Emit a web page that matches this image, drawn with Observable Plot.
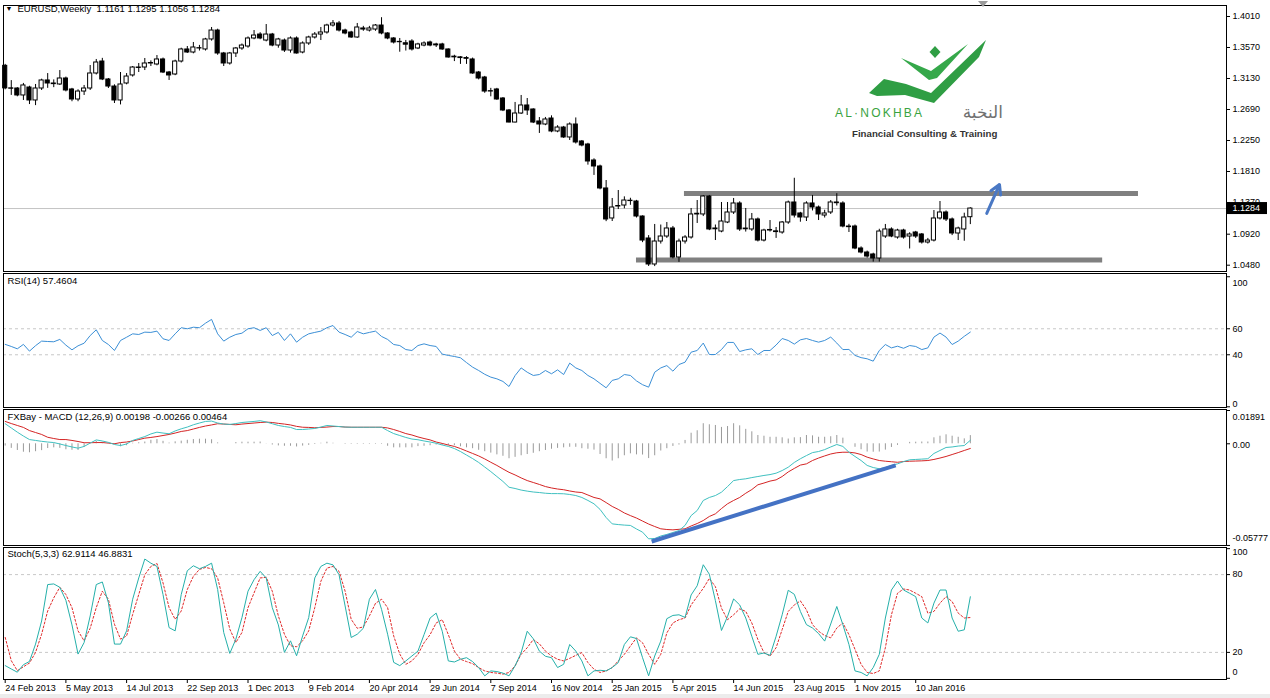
<!DOCTYPE html>
<html><head><meta charset="utf-8">
<script src="https://cdn.jsdelivr.net/npm/d3@7"></script>
<script src="https://cdn.jsdelivr.net/npm/@observablehq/plot@0.6"></script>
<style>
html,body{margin:0;padding:0;background:#fff;}
#root{position:relative;width:1270px;height:698px;overflow:hidden;background:#fff;}
.panel{position:absolute;left:0;}
.panel svg{overflow:visible;}
</style></head><body><div id="root"></div>
<script>
// ---------- DATA (weekly EURUSD, week 0 = 24 Feb 2013) ----------
const opens = [1.3310,1.2990,1.2988,1.2889,1.3002,1.2818,1.2988,1.3102,1.3059,1.3045,
1.3130,1.2974,1.2832,1.2945,1.2988,1.3201,1.3371,1.3116,1.3016,1.2818,
1.3059,1.3173,1.3286,1.3286,1.3343,1.3329,1.3400,1.3215,1.3187,1.3371,
1.3542,1.3499,1.3560,1.3542,1.3684,1.3811,1.3485,1.3343,1.3485,1.3556,
1.3584,1.3698,1.3754,1.3669,1.3754,1.3598,1.3669,1.3527,1.3698,1.3499,
1.3627,1.3712,1.3754,1.3783,1.3882,1.3911,1.3811,1.3783,1.3712,1.3840,
1.3811,1.3825,1.3882,1.3769,1.3698,1.3645,1.3630,1.3655,1.3556,1.3598,
1.3641,1.3600,1.3613,1.3542,1.3440,1.3430,1.3420,1.3400,1.3215,1.3144,
1.2950,1.2974,1.2846,1.2676,1.2505,1.2633,1.2747,1.2690,1.2520,1.2477,
1.2562,1.2378,1.2434,1.2293,1.2477,1.2236,1.2193,1.1966,1.1881,1.1569,
1.1143,1.1313,1.1327,1.1390,1.1384,1.1171,1.0859,1.0490,1.0816,1.0887,
1.1001,1.0589,1.0816,1.0873,1.1200,1.1200,1.1455,1.0990,1.0958,1.1086,
1.1228,1.1356,1.0990,1.0987,1.1129,1.0830,1.0972,1.0960,1.0944,1.1086,
1.1370,1.1214,1.1157,1.1356,1.1299,1.1185,1.1228,1.1370,1.1356,1.1029,
1.1029,1.0717,1.0660,1.0632,1.0575,1.0887,1.0987,1.0873,1.0972,1.0887,
1.0944,1.0916,1.0802,1.0830,1.1143,1.1228,1.1129,1.0930,1.0987,1.1161];
const highs = [1.3330,1.3100,1.3000,1.3060,1.3020,1.3045,1.3120,1.3200,1.3110,1.3243,
1.3150,1.2990,1.2970,1.3031,1.3314,1.3400,1.3416,1.3130,1.3040,1.3215,
1.3200,1.3300,1.3343,1.3414,1.3380,1.3456,1.3420,1.3230,1.3390,1.3560,
1.3584,1.3641,1.3600,1.3700,1.3854,1.3830,1.3500,1.3500,1.3570,1.3620,
1.3720,1.3811,1.3780,1.3896,1.3770,1.3700,1.3690,1.3720,1.3720,1.3650,
1.3730,1.3783,1.3854,1.3900,1.3953,1.3940,1.3830,1.3800,1.3911,1.3870,
1.3870,1.3896,1.3993,1.3780,1.3710,1.3698,1.3670,1.3680,1.3630,1.3650,
1.3660,1.3630,1.3630,1.3550,1.3460,1.3440,1.3440,1.3420,1.3230,1.3160,
1.2990,1.2990,1.2860,1.2690,1.2790,1.2889,1.2846,1.2700,1.2576,1.2577,
1.2600,1.2460,1.2450,1.2500,1.2570,1.2250,1.2210,1.1990,1.1900,1.1682,
1.1427,1.1540,1.1450,1.1430,1.1400,1.1180,1.0900,1.1058,1.1050,1.1086,
1.1030,1.0850,1.0900,1.1285,1.1398,1.1467,1.1470,1.1050,1.1370,1.1370,
1.1427,1.1380,1.1285,1.1214,1.1150,1.0990,1.1114,1.1015,1.1100,1.1390,
1.1714,1.1230,1.1380,1.1470,1.1320,1.1260,1.1398,1.1495,1.1380,1.1060,
1.1050,1.0740,1.0680,1.0650,1.0990,1.1058,1.1010,1.0990,1.0990,1.0940,
1.0960,1.0930,1.0860,1.1256,1.1384,1.1250,1.1150,1.1020,1.1218,1.1295];
const lows = [1.2970,1.2890,1.2870,1.2818,1.2760,1.2745,1.2960,1.2990,1.3000,1.3031,
1.2940,1.2800,1.2800,1.2889,1.2960,1.3180,1.3100,1.2988,1.2775,1.2755,
1.3040,1.3150,1.3215,1.3243,1.3300,1.3310,1.3200,1.3102,1.3170,1.3350,
1.3485,1.3480,1.3520,1.3520,1.3660,1.3460,1.3300,1.3320,1.3428,1.3530,
1.3560,1.3680,1.3680,1.3650,1.3580,1.3560,1.3500,1.3490,1.3477,1.3480,
1.3600,1.3690,1.3669,1.3760,1.3860,1.3790,1.3750,1.3700,1.3700,1.3800,
1.3790,1.3800,1.3750,1.3680,1.3620,1.3503,1.3520,1.3520,1.3540,1.3580,
1.3580,1.3570,1.3530,1.3420,1.3370,1.3330,1.3330,1.3190,1.3110,1.2920,
1.2870,1.2820,1.2660,1.2500,1.2500,1.2620,1.2605,1.2490,1.2350,1.2460,
1.2360,1.2360,1.2280,1.2250,1.2200,1.2160,1.1900,1.1754,1.1550,1.1098,
1.1100,1.1270,1.1280,1.1330,1.1150,1.0800,1.0462,1.0460,1.0780,1.0860,
1.0570,1.0520,1.0780,1.0850,1.1072,1.1170,1.0970,1.0830,1.0940,1.1070,
1.1200,1.0960,1.0950,1.0960,1.0810,1.0810,1.0950,1.0860,1.0920,1.1060,
1.1150,1.1090,1.1100,1.1250,1.1114,1.1150,1.1200,1.1320,1.1010,1.0944,
1.0700,1.0640,1.0580,1.0524,1.0524,1.0860,1.0870,1.0850,1.0850,1.0710,
1.0860,1.0780,1.0780,1.0810,1.1120,1.1100,1.0900,1.0830,1.0820,1.1056];
const closes = [1.2990,1.2985,1.2889,1.3031,1.2818,1.2988,1.3102,1.3059,1.3050,1.3130,
1.2960,1.2832,1.2945,1.2988,1.3201,1.3357,1.3116,1.3016,1.2818,1.3045,
1.3158,1.3286,1.3280,1.3343,1.3350,1.3400,1.3215,1.3173,1.3371,1.3542,
1.3499,1.3570,1.3556,1.3684,1.3811,1.3485,1.3343,1.3485,1.3556,1.3598,
1.3698,1.3740,1.3698,1.3754,1.3598,1.3684,1.3527,1.3698,1.3485,1.3627,
1.3712,1.3754,1.3783,1.3882,1.3911,1.3811,1.3769,1.3712,1.3854,1.3825,
1.3840,1.3882,1.3769,1.3698,1.3641,1.3650,1.3610,1.3542,1.3613,1.3627,
1.3598,1.3613,1.3542,1.3428,1.3430,1.3420,1.3410,1.3201,1.3130,1.2945,
1.2945,1.2832,1.2676,1.2505,1.2633,1.2747,1.2676,1.2505,1.2477,1.2548,
1.2378,1.2434,1.2293,1.2477,1.2222,1.2179,1.1952,1.1881,1.1569,1.1129,
1.1299,1.1320,1.1398,1.1395,1.1171,1.0830,1.0490,1.0816,1.0887,1.1001,
1.0589,1.0816,1.0873,1.1200,1.1210,1.1455,1.0987,1.1001,1.1100,1.1228,
1.1356,1.0987,1.1000,1.1129,1.0830,1.0972,1.0980,1.0950,1.1086,1.1370,
1.1185,1.1157,1.1356,1.1299,1.1200,1.1214,1.1370,1.1360,1.1029,1.1020,
1.0717,1.0660,1.0603,1.0575,1.0958,1.0987,1.0887,1.0972,1.0873,1.0916,
1.0887,1.0802,1.0830,1.1143,1.1228,1.1129,1.0930,1.1001,1.1157,1.1284];

const rsi14 = [48,46.4,44.6,48,42.8,47,50.5,50.2,50,51.8,
47.4,43.8,46.9,48.9,54.8,59.2,51,47.9,43.3,51,
53.5,56.1,55.6,57.4,57.2,58.2,52.3,51,56.1,60.8,
60,61.2,60.8,64.3,67.2,56.1,50.5,53.5,55.6,56.6,
60,60.8,58.7,60.8,54.8,57.2,51,56.1,49.7,53.5,
56.1,57.2,58.2,60.8,62.5,57.4,55.6,53.5,57.9,56.1,
57.2,58.2,54.1,51.8,47.9,47.1,44,43.3,47.1,48.4,
47.1,46.4,40.5,39.5,38.7,37.7,34,30.5,27.9,25,
22.8,21.5,19.5,15.6,24,29.9,26.6,24.1,24.8,27.9,
25.4,28.4,24.8,33.6,29.9,27.9,24.1,21.5,18,14.6,
20.3,21.5,24.8,24.1,19.9,17,15.1,26.6,29.9,31.7,
27.4,32.5,34.3,42,43.3,49,40.2,40.2,44,49.5,
49.5,42.5,43.8,44.6,40.2,43.3,43.3,47.5,52.5,51,
48.2,51.5,52.5,51,49.7,51,53.6,49,44,44.1,
39.5,37.8,36.9,35.1,43.3,47.9,45.3,46.6,45,47.1,
46.4,44,45.3,53.6,56.7,53.6,47.9,50.5,54.2,57.46];

const macdMain = [0.0114,0.0090,0.0066,0.0044,0.0024,0.0019,0.0014,0.0010,0.0007,-0.0001,
-0.0010,-0.0018,-0.0025,-0.0015,0.0004,0.0022,0.0016,0.0008,-0.0004,-0.0010,
-0.0001,0.0019,0.0030,0.0041,0.0056,0.0066,0.0061,0.0057,0.0073,0.0085,
0.0095,0.0108,0.0118,0.0127,0.0129,0.0118,0.0112,0.0110,0.0115,0.0121,
0.0124,0.0127,0.0131,0.0124,0.0114,0.0104,0.0098,0.0093,0.0081,0.0081,
0.0084,0.0087,0.0095,0.0104,0.0101,0.0098,0.0095,0.0094,0.0094,0.0094,
0.0094,0.0094,0.0094,0.0075,0.0058,0.0047,0.0036,0.0027,0.0023,0.0016,
0.0010,0.0003,-0.0007,-0.0015,-0.0027,-0.0044,-0.0064,-0.0084,-0.0106,-0.0132,
-0.0158,-0.0186,-0.0214,-0.0247,-0.0254,-0.0263,-0.0269,-0.0274,-0.0277,-0.0281,
-0.0283,-0.0283,-0.0284,-0.0288,-0.0294,-0.0305,-0.0322,-0.0341,-0.0373,-0.0419,
-0.0455,-0.0459,-0.0462,-0.0464,-0.0484,-0.0502,-0.0540,-0.0538,-0.0524,-0.0515,
-0.0504,-0.0493,-0.0464,-0.0408,-0.0379,-0.0322,-0.0305,-0.0294,-0.0275,-0.0243,
-0.0209,-0.0203,-0.0199,-0.0192,-0.0186,-0.0180,-0.0175,-0.0167,-0.0152,-0.0133,
-0.0106,-0.0085,-0.0067,-0.0050,-0.0044,-0.0033,-0.0018,-0.0004,-0.0015,-0.0048,
-0.0072,-0.0095,-0.0123,-0.0135,-0.0142,-0.0135,-0.0123,-0.0114,-0.0101,-0.0091,
-0.0089,-0.0087,-0.0085,-0.0055,-0.0038,-0.0021,-0.0018,-0.0013,-0.0010,0.00198];
const macdSignal = [0.0127,0.0115,0.0104,0.0093,0.0075,0.0064,0.0053,0.0037,0.0030,0.0024,
0.0024,0.0019,0.0013,0.0006,0.0006,0.0007,0.0007,0.0004,0.0000,0.0007,
0.0010,0.0016,0.0024,0.0032,0.0036,0.0041,0.0047,0.0053,0.0061,0.0070,
0.0075,0.0084,0.0093,0.0101,0.0107,0.0114,0.0112,0.0110,0.0108,0.0112,
0.0115,0.0118,0.0121,0.0123,0.0121,0.0116,0.0112,0.0107,0.0099,0.0094,
0.0093,0.0091,0.0093,0.0095,0.0098,0.0098,0.0095,0.0094,0.0094,0.0094,
0.0094,0.0094,0.0094,0.0090,0.0081,0.0070,0.0058,0.0050,0.0039,0.0030,
0.0022,0.0010,0.0002,-0.0007,-0.0015,-0.0027,-0.0041,-0.0055,-0.0069,-0.0086,
-0.0105,-0.0123,-0.0143,-0.0162,-0.0177,-0.0194,-0.0209,-0.0220,-0.0231,-0.0243,
-0.0251,-0.0257,-0.0261,-0.0268,-0.0274,-0.0277,-0.0291,-0.0305,-0.0313,-0.0334,
-0.0356,-0.0373,-0.0393,-0.0408,-0.0422,-0.0439,-0.0456,-0.0470,-0.0483,-0.0487,
-0.0489,-0.0486,-0.0483,-0.0467,-0.0453,-0.0436,-0.0413,-0.0398,-0.0368,-0.0341,
-0.0322,-0.0305,-0.0281,-0.0260,-0.0233,-0.0223,-0.0212,-0.0205,-0.0186,-0.0160,
-0.0140,-0.0121,-0.0114,-0.0095,-0.0081,-0.0069,-0.0058,-0.0051,-0.0048,-0.0048,
-0.0052,-0.0061,-0.0076,-0.0086,-0.0095,-0.0099,-0.0102,-0.0105,-0.0101,-0.0099,
-0.0098,-0.0097,-0.0095,-0.0089,-0.0081,-0.0072,-0.0061,-0.0050,-0.0038,-0.00266];
const macdHist = [-0.0013,-0.0026,-0.0038,-0.0048,-0.0051,-0.0045,-0.0039,-0.0027,-0.0023,-0.0026,
-0.0034,-0.0037,-0.0038,-0.0021,-0.0001,0.0014,0.0009,0.0004,-0.0004,-0.0017,
-0.0011,0.0003,0.0006,0.0010,0.0020,0.0024,0.0014,0.0004,0.0011,0.0015,
0.0020,0.0024,0.0026,0.0026,0.0023,0.0005,0.0000,0.0000,0.0007,0.0009,
0.0009,0.0009,0.0010,0.0001,-0.0007,-0.0012,-0.0014,-0.0014,-0.0018,-0.0013,
-0.0009,-0.0004,0.0003,0.0009,0.0003,0.0000,-0.0003,-0.0003,-0.0003,-0.0003,
-0.0003,-0.0003,-0.0003,-0.0014,-0.0023,-0.0023,-0.0023,-0.0023,-0.0016,-0.0014,
-0.0011,-0.0007,-0.0009,-0.0009,-0.0011,-0.0017,-0.0023,-0.0028,-0.0037,-0.0045,
-0.0053,-0.0063,-0.0071,-0.0085,-0.0077,-0.0068,-0.0061,-0.0054,-0.0045,-0.0038,
-0.0031,-0.0026,-0.0023,-0.0020,-0.0020,-0.0028,-0.0031,-0.0036,-0.0061,-0.0085,
-0.0098,-0.0085,-0.0068,-0.0057,-0.0063,-0.0064,-0.0084,-0.0068,-0.0041,-0.0028,
-0.0015,-0.0007,0.0019,0.0060,0.0074,0.0114,0.0108,0.0104,0.0093,0.0098,
0.0114,0.0102,0.0082,0.0068,0.0047,0.0043,0.0037,0.0037,0.0034,0.0027,
0.0034,0.0035,0.0047,0.0045,0.0037,0.0037,0.0040,0.0047,0.0032,0.0000,
-0.0020,-0.0034,-0.0047,-0.0048,-0.0047,-0.0036,-0.0021,-0.0009,0.0000,0.0008,
0.0009,0.0010,0.0010,0.0034,0.0043,0.0051,0.0043,0.0037,0.0028,0.00464];

const stochK = [9.8,7.2,4.7,10.5,13,26.4,44.2,72.3,72.8,70.2,
60.1,41.2,18.7,27.6,48.1,72.3,74.3,58.3,26.4,26.4,
36.6,61,77.4,92,88.8,86.3,64.6,39.1,36.6,64.6,
83,86.8,84.5,86.3,88.8,68.5,35.3,19.2,30.2,46.8,
67.2,76.1,82.5,77.4,54.5,41.2,20,28.9,17.4,32.7,
46.8,77.4,86.3,88.8,87.5,79.9,55.8,31.5,34,38.6,
61,68.5,53.2,34,12.3,9.8,13.4,17.2,21,33.7,
46.5,50.3,36.3,13.4,12.6,14.7,15.9,12.9,8.3,1.9,
5.7,5.2,4,1.9,9.6,19.8,36.3,30.5,21,17,
15.9,8.3,10.8,26.1,21,13.4,1.9,5.7,6.2,5.7,
8.3,12.1,26.1,32,30.7,15.9,1.9,17.2,28.7,46,
48.5,49,47,64.3,71.4,87.6,80.3,59.9,36.9,47.7,
61.2,56.6,46.5,32.4,18.5,19.5,17.7,32.4,49,67.9,
64.8,51.6,41.4,38.8,34.5,28.7,41.9,55.4,41.4,26.1,
5.7,4.5,1.9,8.3,18.5,46.5,68.1,75,68.1,65.6,
63,46.5,42.7,58,68.1,68.1,46.5,36.3,37.4,62.91];
const stochD = [31.5,13.6,5.9,8.9,11.8,20,34,51.9,62.1,70.2,
64.6,54.5,36.6,28.9,38.6,54.5,67.2,61,41.7,30.2,
32.7,49.3,64.6,79.9,86.3,88.6,73.6,54.5,45.5,51.9,
68.5,78.7,84,85.5,84.5,77.4,58.3,37.9,27.6,35.3,
54.5,65.9,77.4,77.9,67.2,48.1,34,25.1,24.3,28.9,
36.6,54.5,74.8,85,86.3,82.5,67.2,45.5,38.6,39.6,
48.1,57.8,61,54.5,32.7,18.7,10.8,13.4,18.5,27.4,
33.7,42.7,45.2,33.7,21,14.7,12.9,11.3,8.3,5.7,
4.5,4,3.2,4.5,9.6,18.5,23.6,29.9,26.6,21,
17.2,14.7,13.4,15.4,17.7,19.8,12.1,7,4.5,5.7,
8.3,13.4,18.5,24.9,31.2,27.4,18.5,10.8,18.5,35,
42.7,45.2,46.5,56.6,63,69.4,77,70.7,54.1,45.2,
49,53.6,51.6,42.7,29.9,19.8,17.2,23.6,37.6,51.6,
56.6,59.7,52.8,41.4,36.3,33,31.2,38.8,42.7,33.7,
22.3,10.8,4.5,3.7,5.7,23.6,49,65.6,68.9,68.1,
65.6,63,50.3,51.6,58,63,59.2,50.3,46.5,46.88];

const dateLabels = ["24 Feb 2013","5 May 2013","14 Jul 2013","22 Sep 2013","1 Dec 2013","9 Feb 2014","20 Apr 2014","29 Jun 2014","7 Sep 2014","16 Nov 2014","25 Jan 2015","5 Apr 2015","14 Jun 2015","23 Aug 2015","1 Nov 2015","10 Jan 2016"];
const dateLabelWeeks = [0,10,20,30,40,50,60,70,80,90,100,110,120,130,140,150];
const priceTicks = [1.4010,1.3570,1.3130,1.2690,1.2250,1.1810,1.1370,1.0920,1.0480];
const rsiLevels = [60,40];
const stochLevels = [80,20];

// drawn annotations (week index, value)
const zoneLevels = [1.1498,1.0554];
const zoneFromWeek = [111.9,104.0];
const zoneToWeek = [186.7,180.8];
const arrowWeeks = [161.7,163.8];
const arrowPrices = [1.1214,1.1625];
const macdTrendWeeks = [106.5,146.7];
const macdTrendValues = [-0.0555,-0.0123];

// ---------- LAYOUT ----------
const W = 1270, ML = 3, MR = 44;
const xDomain = [-0.28, 201.2];
const font = '"Liberation Sans", Arial, sans-serif';
const root = document.getElementById("root");
const weeks = closes.map((_, i) => i);
const candles = weeks.map(i => ({i, o: opens[i], h: highs[i], l: lows[i], c: closes[i]}));
const lastClose = closes[closes.length - 1];
const baseStyle = {fontFamily: font, fontSize: "9px", background: "transparent", color: "#000", overflow: "visible"};

function place(svg, top) {
  const d = document.createElement("div");
  d.className = "panel"; d.style.top = top + "px";
  d.append(svg); root.append(d);
}
function axisTicks(vals) {
  return Plot.axisY(vals, {anchor: "right", tickSize: 3, tickFormat: () => "", label: null, stroke: "#000"});
}
function axisLabels(vals, fmt, dy = 0) {
  return Plot.text(vals, {y: d => d, text: fmt, frameAnchor: "right", textAnchor: "start", dx: 6, dy, fontSize: 9, fill: "#000"});
}

// Main price panel
const zones = zoneLevels.map((v, k) => ({v, a: zoneFromWeek[k], b: zoneToWeek[k]}));
const mainTicks = priceTicks.filter(v => Math.abs(v - lastClose) > 0.005);
const hiddenTicks = priceTicks.filter(v => Math.abs(v - lastClose) <= 0.005);
place(Plot.plot({
  width: W, height: 272, marginLeft: ML, marginRight: MR, marginTop: 5, marginBottom: 1,
  x: {domain: xDomain, axis: null},
  y: {domain: [1.03904, 1.41661]},
  style: baseStyle,
  marks: [
    Plot.ruleY([lastClose], {stroke: "#c4c4c4", strokeWidth: 1}),
    Plot.ruleY(zones, {y: "v", x1: "a", x2: "b", stroke: "#808080", strokeWidth: 5}),
    Plot.ruleX(candles, {x: "i", y1: "l", y2: "h", stroke: "#000", strokeWidth: 1}),
    Plot.rect(candles, {x1: d => d.i - 0.34, x2: d => d.i + 0.34, y1: "o", y2: "c",
      fill: d => d.c >= d.o ? "#ffffff" : "#000000", stroke: "#000", strokeWidth: 1}),
    Plot.arrow([0], {x1: () => arrowWeeks[0], y1: () => arrowPrices[0], x2: () => arrowWeeks[1], y2: () => arrowPrices[1],
      stroke: "#4a78c4", strokeWidth: 3, headLength: 9}),
    Plot.frame({stroke: "#000"}),
    axisTicks(priceTicks),
    axisLabels(mainTicks, d => d.toFixed(4)),
    // label partly covered by the current-price box (as in MT4), shifted up and clipped by the box
    axisLabels(hiddenTicks, d => d.toFixed(4), -1),
    Plot.rect([lastClose], {x1: xDomain[1], x2: xDomain[1], y1: d => d, y2: d => d,
      insetLeft: 1, insetRight: -41, insetTop: -6, insetBottom: -6, fill: "#000"}),
    Plot.text([lastClose], {y: d => d, text: d => d.toFixed(4), frameAnchor: "right", textAnchor: "start", dx: 6, fontSize: 9, fill: "#fff"}),
    Plot.text(["\u25BC"], {frameAnchor: "top-left", dx: 2, dy: 1, fontSize: 7, fill: "#000"}),
    Plot.text(["EURUSD,Weekly\u00a0\u00a01.1161 1.1295 1.1056 1.1284"], {frameAnchor: "top-left", dx: 14, dy: 0, fontSize: 9.5, fill: "#000"})
  ]
}), 0);

// RSI panel
const rsiData = weeks.map(i => ({i, v: rsi14[i]}));
place(Plot.plot({
  width: W, height: 136, marginLeft: ML, marginRight: MR, marginTop: 1, marginBottom: 1,
  x: {domain: xDomain, axis: null},
  y: {domain: [-0.54, 102.5]},
  style: baseStyle,
  marks: [
    Plot.ruleY(rsiLevels, {stroke: "#c8c8c8", strokeDasharray: "3,3"}),
    Plot.line(rsiData, {x: "i", y: "v", stroke: "#3b8fd6", strokeWidth: 1}),
    Plot.frame({stroke: "#000"}),
    axisTicks([100, 60, 40, 0]),
    axisLabels([100], d => String(d), 6),
    axisLabels(rsiLevels, d => String(d), 0),
    axisLabels([0], d => String(d), -3),
    Plot.text(["RSI(14) 57.4604"], {frameAnchor: "top-left", dx: 4, dy: 4, fontSize: 9.5, fill: "#000"})
  ]
}), 272);

// MACD panel
const macdData = weeks.map(i => ({i, m: macdMain[i], s: macdSignal[i], h: macdHist[i]}));
place(Plot.plot({
  width: W, height: 138, marginLeft: ML, marginRight: MR, marginTop: 1, marginBottom: 1,
  x: {domain: xDomain, axis: null},
  y: {domain: [-0.05779, 0.01948]},
  style: baseStyle,
  marks: [
    Plot.ruleX(macdData, {x: "i", y1: 0, y2: "h", stroke: "#9a9a9a", strokeWidth: 1}),
    Plot.line(macdData, {x: "i", y: "s", stroke: "#d42424", strokeWidth: 1}),
    Plot.line(macdData, {x: "i", y: "m", stroke: "#3fc0c0", strokeWidth: 1}),
    Plot.link([0], {x1: () => macdTrendWeeks[0], y1: () => macdTrendValues[0], x2: () => macdTrendWeeks[1], y2: () => macdTrendValues[1],
      stroke: "#4472c4", strokeWidth: 4}),
    Plot.frame({stroke: "#000"}),
    axisTicks([0.01891, 0, -0.05777]),
    axisLabels([0.01891], () => "0.01891", 7),
    axisLabels([0], () => "0.00", 1),
    axisLabels([-0.05777], () => "-0.05777", -7),
    Plot.text(["FXBay - MACD (12,26,9) 0.00198 -0.00266 0.00464"], {frameAnchor: "top-left", dx: 4, dy: 4, fontSize: 9.5, fill: "#000"})
  ]
}), 408);

// Stochastic panel + date axis
const stochData = weeks.map(i => ({i, k: stochK[i], d: stochD[i]}));
const labelOf = new Map(dateLabelWeeks.map((w, k) => [w, dateLabels[k]]));
place(Plot.plot({
  width: W, height: 152, marginLeft: ML, marginRight: MR, marginTop: 1, marginBottom: 19,
  x: {domain: xDomain},
  y: {domain: [-0.92, 100.9]},
  style: baseStyle,
  marks: [
    Plot.ruleY(stochLevels, {stroke: "#c8c8c8", strokeDasharray: "3,3"}),
    Plot.line(stochData, {x: "i", y: "d", stroke: "#e02a2a", strokeWidth: 1, strokeDasharray: "2,2"}),
    Plot.line(stochData, {x: "i", y: "k", stroke: "#25b0aa", strokeWidth: 1}),
    Plot.frame({stroke: "#000"}),
    axisTicks([100, 80, 20, 0]),
    axisLabels([100], d => String(d), 3),
    axisLabels(stochLevels, d => String(d), 0),
    axisLabels([0], d => String(d), -6),
    Plot.axisX(dateLabelWeeks, {anchor: "bottom", tickSize: 4, tickPadding: 1, tickFormat: d => labelOf.get(d),
      textAnchor: "start", dx: 0, fontSize: 9, label: null, stroke: "#000", fill: "#000"}),
    Plot.text(["Stoch(5,3,3) 62.9114 46.8831"], {frameAnchor: "top-left", dx: 4, dy: 3, fontSize: 9.5, fill: "#000"})
  ]
}), 546);

// bottom strip
const strip = document.createElement("div");
strip.style.cssText = "position:absolute;left:0;top:694px;width:1270px;height:4px;background:#ececec;";
root.append(strip);

// Logo overlay and chart-shift marker
const ns = "http://www.w3.org/2000/svg";
const ov = document.createElementNS(ns, "svg");
ov.setAttribute("width", 1270); ov.setAttribute("height", 272);
ov.style.cssText = "position:absolute;left:0;top:0;pointer-events:none;";
ov.innerHTML = `
  <polygon points="978,1 988,1 983,7" fill="#9a9a9a"/>
  <polygon points="869,93 884,79 906,84 931,93 986,40 979,57 934,103 905,95 877,96" fill="#2f9e44"/>
  <polygon points="901,58 931,71 968,44 937,78 929,80" fill="#35a84a"/>
  <polygon points="935,46 940.5,52 935,58 929.5,52" fill="#2f9e44"/>
  <text x="835" y="117" font-family="Liberation Sans, Arial" font-size="12" letter-spacing="2.2" fill="#3aa33f">AL·NOKHBA</text>
  <text x="1003" y="118" text-anchor="end" font-family="DejaVu Sans" font-size="17" fill="#707070">النخبة</text>
  <text x="852" y="137" font-family="Liberation Sans, Arial" font-size="9.7" font-weight="bold" fill="#333">Financial Consulting &amp; Training</text>`;
root.append(ov);
</script></body></html>
